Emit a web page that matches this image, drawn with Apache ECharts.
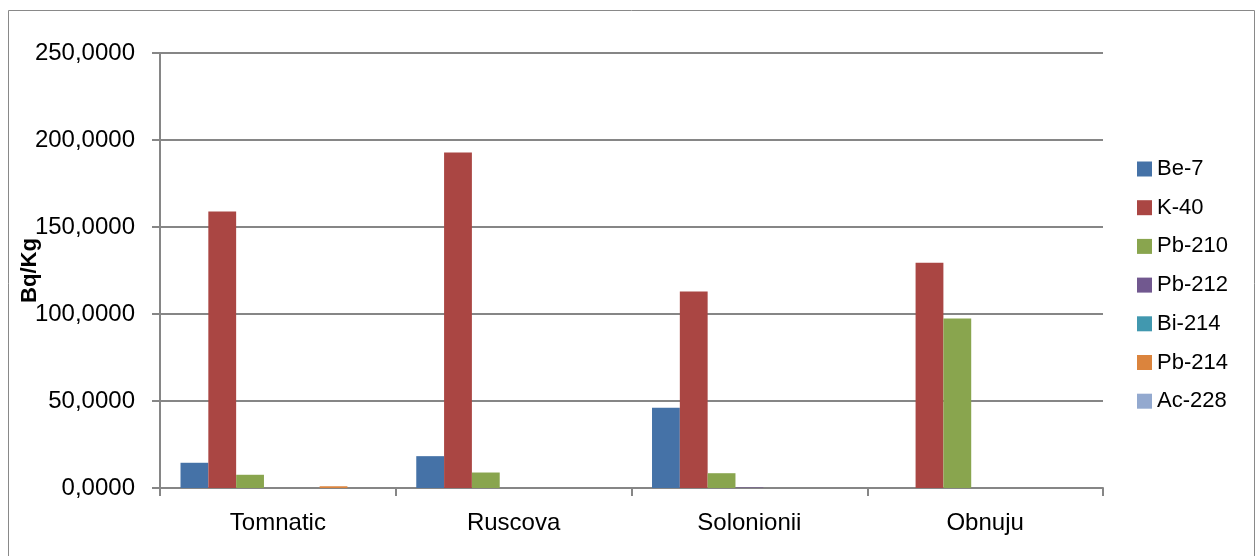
<!DOCTYPE html>
<html>
<head>
<meta charset="utf-8">
<script src="https://cdn.jsdelivr.net/npm/echarts@6/dist/echarts.min.js"></script>
<style>
  html, body { margin: 0; padding: 0; background: #fff; }
  #chart { width: 1260px; height: 556px; }
</style>
</head>
<body>
<div id="chart"></div>
<script>
// Sampling sites
const categories = ['Tomnatic', 'Ruscova', 'Solonionii', 'Obnuju'];

// Activity per radionuclide, Bq/Kg
const be7    = [14.5, 18.3, 46.1, 0];
const k40    = [158.9, 192.8, 112.9, 129.4];
const pb210  = [7.6, 8.9, 8.5, 97.4];
const pb212  = [0, 0, 0.3, 0];
const bi214  = [0, 0, 0, 0];
const pb214  = [1.0, 0, 0, 0];
const ac228  = [0, 0, 0, 0];

const seriesNames = ['Be-7', 'K-40', 'Pb-210', 'Pb-212', 'Bi-214', 'Pb-214', 'Ac-228'];
const seriesValues = [be7, k40, pb210, pb212, bi214, pb214, ac228];
const colors = ['#4572A7', '#AA4643', '#89A54E', '#71588F', '#4198AF', '#DB843D', '#93A9CF'];

const yTicks = { min: 0, max: 250, interval: 50 };

const FONT = '"Liberation Sans", Arial, sans-serif';
const GRAY = '#868686';

const chart = echarts.init(document.getElementById('chart'), null, { renderer: 'canvas' });

chart.setOption({
  animation: false,
  backgroundColor: '#ffffff',
  color: colors,
  textStyle: { fontFamily: FONT },
  graphic: [{
    type: 'rect',
    shape: { x: 8.5, y: 10.5, width: 1246, height: 560 },
    style: { fill: 'none', stroke: '#898989', lineWidth: 1 },
    silent: true
  }],
  grid: {
    left: 160, right: 157, top: 53, bottom: 68,
    containLabel: false,
    outerBoundsMode: 'none'
  },
  legend: {
    orient: 'vertical',
    left: 1137,
    top: 158,
    padding: 0,
    itemWidth: 15,
    itemHeight: 15,
    itemGap: 16.7,
    icon: 'rect',
    textStyle: { fontFamily: FONT, fontSize: 22, color: '#000', lineHeight: 22 },
    data: seriesNames
  },
  xAxis: {
    type: 'category',
    data: categories,
    axisLine: { lineStyle: { color: GRAY, width: 2 } },
    axisTick: { show: true, length: 8, lineStyle: { color: GRAY, width: 2 } },
    axisLabel: { color: '#000', fontSize: 24, fontFamily: FONT, margin: 23 }
  },
  yAxis: {
    type: 'value',
    min: yTicks.min,
    max: yTicks.max,
    interval: yTicks.interval,
    name: 'Bq/Kg',
    nameLocation: 'middle',
    nameGap: 119,
    nameMoveOverlap: false,
    nameTextStyle: { fontFamily: FONT, fontSize: 22, fontWeight: 'bold', color: '#000' },
    axisLine: { show: true, lineStyle: { color: GRAY, width: 2 } },
    axisTick: { show: true, length: 8, lineStyle: { color: GRAY, width: 2 } },
    splitLine: { show: true, lineStyle: { color: GRAY, width: 2 } },
    axisLabel: {
      color: '#000', fontSize: 24, fontFamily: FONT, margin: 25,
      formatter: v => v.toFixed(4).replace('.', ',')
    }
  },
  series: seriesNames.map((name, i) => ({
    name,
    type: 'bar',
    data: seriesValues[i],
    barGap: '0%',
    barCategoryGap: '17.4%',
    itemStyle: { color: colors[i] }
  }))
});
</script>
</body>
</html>
